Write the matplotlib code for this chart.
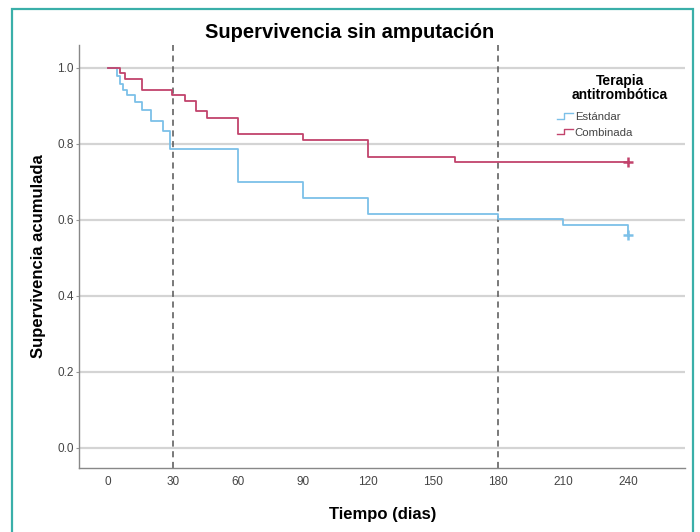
import matplotlib.pyplot as plt
from matplotlib.lines import Line2D
from matplotlib.legend_handler import HandlerBase
from matplotlib.patches import Rectangle

plt.rcParams['font.family'] = ['Liberation Sans', 'DejaVu Sans']

# Kaplan-Meier steps
std_t = [0, 4, 5.5, 7, 8.5, 12.5, 15.5, 20, 25.5, 28.5, 60, 90, 120, 180, 210, 240]
std_s = [1.0, 0.979, 0.957, 0.94, 0.929, 0.91, 0.889, 0.859, 0.832, 0.787, 0.70, 0.657, 0.616, 0.602, 0.587, 0.559]
comb_t = [0, 5.5, 8, 15.5, 29.5, 35.5, 40.5, 45.5, 60, 90, 120, 160, 240]
comb_s = [1.0, 0.986, 0.97, 0.942, 0.929, 0.911, 0.885, 0.868, 0.824, 0.81, 0.765, 0.751, 0.751]
groups = ['Estándar', 'Combinada']
xticks = [0, 30, 60, 90, 120, 150, 180, 210, 240]
yticks = [0.0, 0.2, 0.4, 0.6, 0.8, 1.0]
ref_days = [30, 180]

c_std = '#7cc0e8'
c_comb = '#c2436c'


class StepHandler(HandlerBase):
    def create_artists(self, legend, orig, x0, y0, width, height, fontsize, trans):
        xs = [x0, x0 + width * 0.45, x0 + width * 0.45, x0 + width]
        ys = [y0 + height * 0.15, y0 + height * 0.15, y0 + height * 0.85, y0 + height * 0.85]
        ln = Line2D(xs, ys, color=orig.get_color(), lw=1.0, transform=trans)
        return [ln]


fig = plt.figure(figsize=(7, 5.32), dpi=100)
fig.patches.append(Rectangle((0.017, -0.02), 0.973, 1.003, transform=fig.transFigure,
                             fill=False, edgecolor='#3aafa9', lw=1.6))
ax = fig.add_axes([0.113, 0.12, 0.866, 0.796])

for v in yticks:
    ax.axhline(v, color='#d4d4d4', lw=1.6, zorder=1)
for d in ref_days:
    ax.axvline(d, color='#555555', lw=1.1, ls=(0, (4, 3)), zorder=2)

l1, = ax.step(std_t, std_s, where='post', color=c_std, lw=1.3, zorder=3)
l2, = ax.step(comb_t, comb_s, where='post', color=c_comb, lw=1.3, zorder=3)
ax.plot(std_t[-1], std_s[-1], marker='+', color=c_std, ms=7, mew=1.8, zorder=4)
ax.plot(comb_t[-1], comb_s[-1], marker='+', color=c_comb, ms=7, mew=1.8, zorder=4)

ax.set_xlim(-13.4, 266.3)
ax.set_ylim(-0.053, 1.06)
ax.set_xticks(xticks)
ax.set_yticks(yticks)
ax.set_yticklabels(['%.1f' % v for v in yticks])
ax.tick_params(axis='x', length=0, pad=6, labelsize=8.5, colors='#444444')
ax.tick_params(axis='y', length=2, width=0.8, pad=2, color='#999999', labelsize=8.5,
               labelcolor='#444444')
for s in ['top', 'right']:
    ax.spines[s].set_visible(False)
for s in ['left', 'bottom']:
    ax.spines[s].set_color('#888888')
    ax.spines[s].set_linewidth(1.0)

fig.text(0.5, 1 - 33 / 532, 'Supervivencia sin amputación', fontsize=14.5,
         fontweight='bold', ha='center', va='center')
ax.set_xlabel('Tiempo (dias)', fontsize=12, fontweight='bold', labelpad=13)
ax.set_ylabel('Supervivencia acumulada', fontsize=12, fontweight='bold', labelpad=8)

fig.text(620 / 700, 1 - 88 / 532, 'Terapia\nantitrombótica', fontsize=10,
         fontweight='bold', ha='center', va='center', linespacing=1.05)
leg = ax.legend([l1, l2], groups, frameon=False, handler_map={Line2D: StepHandler()},
                loc='upper left', bbox_to_anchor=(557 / 700, 1 - 112 / 532),
                bbox_transform=fig.transFigure, borderaxespad=0, borderpad=0,
                fontsize=8.2, handlelength=1.4, handletextpad=0.15, labelspacing=0.5)
for t in leg.get_texts():
    t.set_color('#444444')

fig.savefig('out.png', dpi=100)
